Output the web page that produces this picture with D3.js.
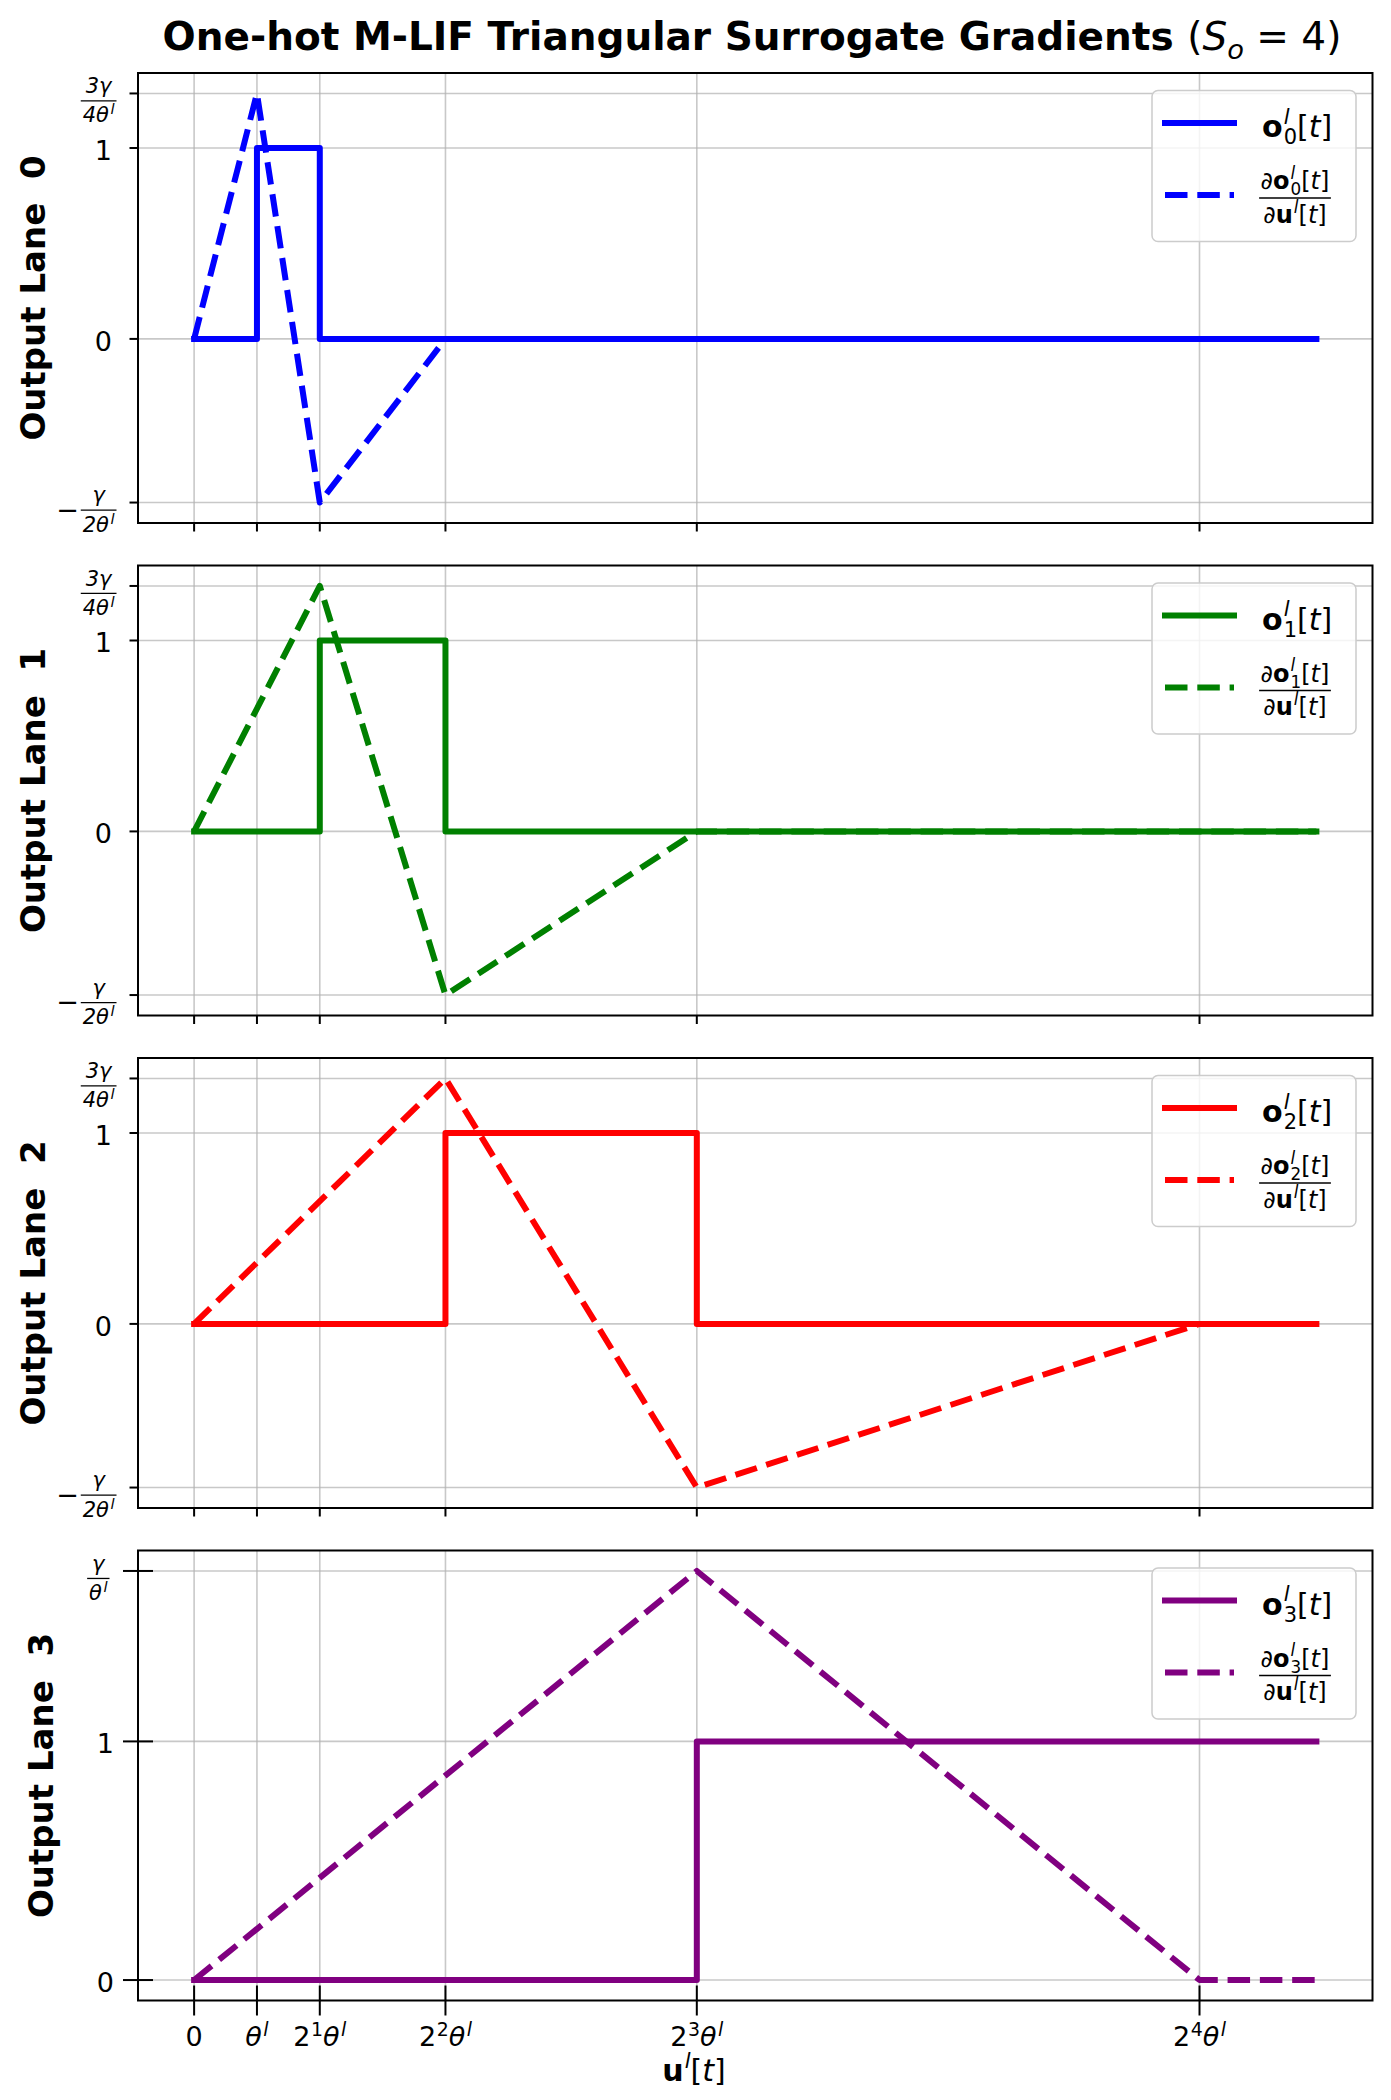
<!DOCTYPE html>
<html><head><meta charset="utf-8">
<script src="https://cdn.jsdelivr.net/npm/d3@7"></script>
<style>body{margin:0;background:#fff} svg{display:block} text{font-family:"DejaVu Sans",sans-serif}</style>
</head><body>
<svg id="chart" width="1391" height="2100"></svg>
<script>
// ---------------- data ----------------
const lanes = [0, 1, 2, 3];
const laneColors = ["#0000ff", "#008000", "#ff0000", "#800080"];
const uMax = 17.86;                       // end of u^l[t] sweep, in units of θ^l
const xTickValues = [0, 1, 2, 4, 8, 16];  // 0, θ, 2θ, 4θ, 8θ, 16θ
const xTickLabels = ["0", "θˡ", "2¹θˡ", "2²θˡ", "2³θˡ", "2⁴θˡ"];
const peak = 1.2857, trough = -0.8571, peak3 = 1.7143;   // 3γ/4θ, -γ/2θ, γ/θ
// one-hot outputs o_i (step functions)
const outX = [[0, 1, 1, 2, 2, uMax], [0, 2, 2, 4, 4, uMax], [0, 4, 4, 8, 8, uMax], [0, 8, 8, uMax]];
const outY = [[0, 0, 1, 1, 0, 0], [0, 0, 1, 1, 0, 0], [0, 0, 1, 1, 0, 0], [0, 0, 1, 1]];
// triangular surrogate gradients
const gradX = [[0, 1, 2, 4, uMax], [0, 2, 4, 8, uMax], [0, 4, 8, 16, uMax], [0, 8, 16, uMax]];
const gradY = [[0, peak, trough, 0, 0], [0, peak, trough, 0, 0], [0, peak, trough, 0, 0], [0, peak3, 0, 0]];
const yTickValues = [[trough, 0, 1, peak], [trough, 0, 1, peak], [trough, 0, 1, peak], [0, 1, peak3]];
const yTickLabels = [["−γ/2θˡ", "0", "1", "3γ/4θˡ"], ["−γ/2θˡ", "0", "1", "3γ/4θˡ"], ["−γ/2θˡ", "0", "1", "3γ/4θˡ"], ["0", "1", "γ/θˡ"]];

// ---------------- helpers ----------------
const svg = d3.select("#chart");
const supMap = {"ˡ": "l", "¹": "1", "²": "2", "³": "3", "⁴": "4"};
function tokens(str, italicDigits) {
  const parts = [];
  for (const ch of str) {
    if (supMap[ch] !== undefined) { const c = supMap[ch]; parts.push({t: c, sup: true, it: c === "l", dx: c === "l" ? 1.5 : 0}); }
    else if (ch === "θ" || ch === "γ" || ch === "t") parts.push({t: ch, it: true});
    else if (/[0-9]/.test(ch)) parts.push({t: ch, it: !!italicDigits});
    else parts.push({t: ch});
  }
  return parts;
}
function rich(text, parts, fs) {
  let shift = 0, prev = null;
  parts.forEach(p => {
    const ts = text.append("tspan").text(p.t);
    let target = 0, size = fs;
    if (p.sup) { target = -(p.raise || 0.38) * fs; size = fs * 0.7; }
    if (p.sub) { target = (p.drop || 0.2) * fs; size = fs * 0.7; }
    ts.attr("font-size", size).attr("dy", target - shift);
    ts.attr("font-style", p.it ? "italic" : "normal");
    ts.attr("font-weight", p.b ? "bold" : "normal");
    let dx = p.dx || 0;
    if (p.back && prev) dx -= prev.getComputedTextLength();
    if (dx) ts.attr("dx", dx);
    shift = target; prev = ts.node();
  });
}
function fraction(g, numParts, denParts, fs, cx, barY, rightX) {
  const grp = g.append("g");
  const num = grp.append("text").attr("text-anchor", "middle").attr("y", -0.36 * fs).attr("font-size", fs);
  rich(num, numParts, fs);
  const den = grp.append("text").attr("text-anchor", "middle").attr("y", fs + 0.5).attr("font-size", fs);
  rich(den, denParts, fs);
  const w = Math.max(num.node().getBBox().width, den.node().getBBox().width) + 3;
  grp.append("line").attr("x1", -w / 2).attr("x2", w / 2).attr("y1", 0).attr("y2", 0)
    .attr("stroke", "#000").attr("stroke-width", 1.3);
  const tx = rightX != null ? rightX - w / 2 : cx;
  grp.attr("transform", `translate(${tx},${barY})`);
  return {grp, w, left: tx - w / 2};
}

// ---------------- layout ----------------
const panelTops = [73, 565.5, 1058, 1550.5];
const panelH = 450;
const x = d3.scaleLinear().domain([-0.05 * uMax, 1.05 * uMax]).range([138, 1372.5]);
const [xl, xr] = x.range();

// title
const title = svg.append("text").attr("x", 752).attr("y", 50).attr("text-anchor", "middle").attr("font-size", 39);
rich(title, [{t: "One-hot M-LIF Triangular Surrogate Gradients ", b: 1}, {t: "("}, {t: "S", it: 1}, {t: "o", it: 1, sub: 1, drop: 0.22}, {t: " = 4"}, {t: ")"}], 39);

lanes.forEach(i => {
  const top = panelTops[i], bot = top + panelH;
  const ext = d3.extent(gradY[i].concat(outY[i]));
  const pad = 0.05 * (ext[1] - ext[0]);
  const y = d3.scaleLinear().domain([ext[0] - pad, ext[1] + pad]).range([bot, top]);
  const g = svg.append("g");
  const color = laneColors[i];
  const last = i === 3;

  // grid
  g.selectAll(".gx").data(xTickValues).join("line")
    .attr("x1", d => x(d)).attr("x2", d => x(d)).attr("y1", top).attr("y2", bot)
    .attr("stroke", "#b0b0b0").attr("stroke-opacity", 0.7).attr("stroke-width", 1.6);
  g.selectAll(".gy").data(yTickValues[i]).join("line")
    .attr("x1", xl).attr("x2", xr).attr("y1", d => y(d)).attr("y2", d => y(d))
    .attr("stroke", "#b0b0b0").attr("stroke-opacity", 0.7).attr("stroke-width", 1.6);

  // lines
  const line = d3.line().x(d => x(d[0])).y(d => y(d[1]));
  g.append("path").attr("d", line(d3.zip(outX[i], outY[i])))
    .attr("fill", "none").attr("stroke", color).attr("stroke-width", 6)
    .attr("stroke-linecap", "square").attr("stroke-linejoin", "round");
  g.append("path").attr("d", line(d3.zip(gradX[i], gradY[i])))
    .attr("fill", "none").attr("stroke", color).attr("stroke-width", 6)
    .attr("stroke-dasharray", "22.5,9.8").attr("stroke-linecap", "butt").attr("stroke-linejoin", "round");

  // spines
  g.append("rect").attr("x", xl).attr("y", top).attr("width", xr - xl).attr("height", panelH)
    .attr("fill", "none").attr("stroke", "#000").attr("stroke-width", 2);

  // ticks
  const tIn = last ? 15 : 0, tOut = last ? 15 : 8.5;
  g.selectAll(".tx").data(xTickValues).join("line")
    .attr("x1", d => x(d)).attr("x2", d => x(d)).attr("y1", bot - tIn).attr("y2", bot + tOut)
    .attr("stroke", "#000").attr("stroke-width", 2);
  g.selectAll(".ty").data(yTickValues[i]).join("line")
    .attr("x1", xl - tOut).attr("x2", xl + tIn).attr("y1", d => y(d)).attr("y2", d => y(d))
    .attr("stroke", "#000").attr("stroke-width", 2);

  // y tick labels
  const labRight = last ? 114 : 112;
  const fracRight = last ? 109.5 : 116.5;
  yTickValues[i].forEach((v, k) => {
    const lab = yTickLabels[i][k];
    const ty = y(v);
    if (lab.includes("/")) {
      const neg = lab.startsWith("−");
      const body = neg ? lab.slice(1) : lab;
      const [n, d] = body.split("/");
      const f = fraction(g, tokens(n, true), tokens(d, true), 21, null, ty + 7.5, fracRight);
      if (neg) {
        g.append("text").attr("x", f.left - 2).attr("y", ty + 7.5 + 8.7).attr("text-anchor", "end")
          .attr("font-size", 27).text("−");
      }
    } else {
      g.append("text").attr("x", labRight).attr("y", ty + 12).attr("text-anchor", "end")
        .attr("font-size", 27).text(lab);
    }
  });

  // x tick labels (bottom panel only)
  if (last) {
    xTickValues.forEach((v, k) => {
      const t = g.append("text").attr("x", x(v)).attr("y", 2046).attr("text-anchor", "middle").attr("font-size", 27);
      rich(t, tokens(xTickLabels[k], false).map(p => p.sup && p.t !== "l" ? Object.assign(p, {raise: 0.36, dx: 0.5}) : p), 27);
    });
    const xlab = g.append("text").attr("x", 694).attr("y", 2081).attr("text-anchor", "middle").attr("font-size", 30);
    rich(xlab, [{t: "u", b: 1}, {t: "l", it: 1, sup: 1, raise: 0.42, dx: 1}, {t: "["}, {t: "t", it: 1}, {t: "]"}], 30);
  }

  // y label
  const xb = last ? 53 : 45, cy = (top + bot) / 2;
  g.append("text").attr("transform", `translate(${xb},${cy}) rotate(-90)`)
    .attr("text-anchor", "middle").attr("font-size", 34).attr("font-weight", "bold")
    .style("white-space", "pre").text(`Output Lane  ${i}`);

  // legend
  const lg = g.append("g");
  lg.append("rect").attr("x", 1152).attr("y", top + 17.5).attr("width", 204).attr("height", 151).attr("rx", 6)
    .attr("fill", "#fff").attr("fill-opacity", 0.8).attr("stroke", "#cccccc").attr("stroke-width", 1.5);
  lg.append("line").attr("x1", 1165).attr("x2", 1234).attr("y1", top + 50).attr("y2", top + 50)
    .attr("stroke", color).attr("stroke-width", 6).attr("stroke-linecap", "square");
  lg.append("line").attr("x1", 1165).attr("x2", 1234).attr("y1", top + 122).attr("y2", top + 122)
    .attr("stroke", color).attr("stroke-width", 6).attr("stroke-dasharray", "22.5,9.8");
  const l1 = lg.append("text").attr("x", 1262).attr("y", top + 64).attr("font-size", 30);
  rich(l1, [{t: "o", b: 1}, {t: "l", it: 1, sup: 1, raise: 0.45, dx: 1}, {t: String(i), sub: 1, drop: 0.24, back: true}, {t: "["}, {t: "t", it: 1}, {t: "]"}], 30);
  const numP = [{t: "∂"}, {t: "o", b: 1}, {t: "l", it: 1, sup: 1, raise: 0.45, dx: 1}, {t: String(i), sub: 1, drop: 0.24, back: true}, {t: "["}, {t: "t", it: 1}, {t: "]"}];
  const denP = [{t: "∂"}, {t: "u", b: 1}, {t: "l", it: 1, sup: 1, raise: 0.4, dx: 1}, {t: "["}, {t: "t", it: 1}, {t: "]"}];
  fraction(lg, numP, denP, 24, 1295, top + 125, null);
});
</script>
</body></html>
